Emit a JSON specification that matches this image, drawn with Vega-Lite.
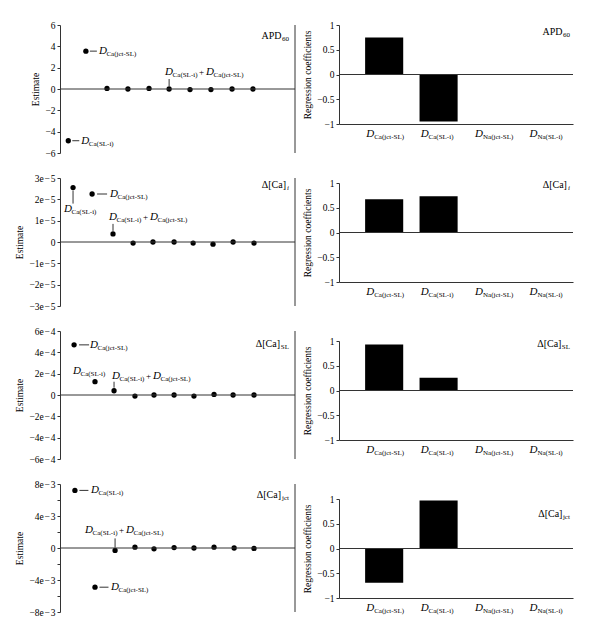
{
  "$schema": "https://vega.github.io/schema/vega-lite/v6.json",
  "padding": {"left": 14, "top": 20, "right": 5, "bottom": 5},
  "config": {
    "view": {"stroke": null},
    "font": "Liberation Serif",
    "axis": {"labelFont": "Liberation Serif", "titleFont": "Liberation Serif", "labelFontSize": 9.5, "titleFontSize": 9.5, "titleFontWeight": "normal", "labelColor": "black", "titleColor": "black", "domainColor": "#333", "tickColor": "#333", "tickSize": 3, "grid": false, "labelPadding": 2, "titlePadding": 4, "labelOverlap": false, "labelBound": false},
    "text": {"font": "Liberation Serif", "color": "black"},
    "rule": {"color": "#333"}
  },
  "datasets": {
    "pts": [
      {"panel":1,"x":0.4,"v":-4.85},{"panel":1,"x":1.25,"v":3.55},{"panel":1,"x":2.27,"v":0.05},{"panel":1,"x":3.28,"v":0},{"panel":1,"x":4.3,"v":0.05},{"panel":1,"x":5.27,"v":0},{"panel":1,"x":6.28,"v":-0.05},{"panel":1,"x":7.29,"v":-0.05},{"panel":1,"x":8.31,"v":0},{"panel":1,"x":9.32,"v":0},
      {"panel":2,"x":0.63,"v":2.55e-5},{"panel":2,"x":1.55,"v":2.25e-5},{"panel":2,"x":2.56,"v":0.38e-5},{"panel":2,"x":3.53,"v":-0.05e-5},{"panel":2,"x":4.49,"v":0},{"panel":2,"x":5.51,"v":0},{"panel":2,"x":6.43,"v":-0.05e-5},{"panel":2,"x":7.39,"v":-0.1e-5},{"panel":2,"x":8.36,"v":0},{"panel":2,"x":9.37,"v":-0.05e-5},
      {"panel":3,"x":0.68,"v":4.7e-4},{"panel":3,"x":1.69,"v":1.25e-4},{"panel":3,"x":2.61,"v":0.4e-4},{"panel":3,"x":3.62,"v":-0.1e-4},{"panel":3,"x":4.54,"v":0},{"panel":3,"x":5.51,"v":0},{"panel":3,"x":6.47,"v":-0.1e-4},{"panel":3,"x":7.44,"v":0.05e-4},{"panel":3,"x":8.36,"v":0},{"panel":3,"x":9.37,"v":0},
      {"panel":4,"x":0.72,"v":7.2e-3},{"panel":4,"x":1.69,"v":-4.9e-3},{"panel":4,"x":2.66,"v":-0.3e-3},{"panel":4,"x":3.62,"v":0.1e-3},{"panel":4,"x":4.54,"v":-0.1e-3},{"panel":4,"x":5.51,"v":0.05e-3},{"panel":4,"x":6.47,"v":0},{"panel":4,"x":7.44,"v":0.1e-3},{"panel":4,"x":8.41,"v":0},{"panel":4,"x":9.37,"v":-0.05e-3}
    ],
    "ann": [
      {"panel":1,"x":0.4,"v":-4.85,"kind":"right","sub":"Ca(SL-i)"},
      {"panel":1,"x":1.25,"v":3.55,"kind":"right","sub":"Ca(jct-SL)"},
      {"panel":1,"x":5.27,"v":0,"kind":"sum","sub":"Ca(SL-i)","sub2":"Ca(jct-SL)"},
      {"panel":2,"x":0.63,"v":2.55e-5,"kind":"down","sub":"Ca(SL-i)"},
      {"panel":2,"x":1.55,"v":2.25e-5,"kind":"right","sub":"Ca(jct-SL)"},
      {"panel":2,"x":2.56,"v":0.38e-5,"kind":"sum","sub":"Ca(SL-i)","sub2":"Ca(jct-SL)"},
      {"panel":3,"x":0.68,"v":4.7e-4,"kind":"right","sub":"Ca(jct-SL)"},
      {"panel":3,"x":1.69,"v":1.25e-4,"kind":"above","sub":"Ca(SL-i)"},
      {"panel":3,"x":2.61,"v":0.4e-4,"kind":"sum","sub":"Ca(SL-i)","sub2":"Ca(jct-SL)"},
      {"panel":4,"x":0.72,"v":7.2e-3,"kind":"right","sub":"Ca(SL-i)"},
      {"panel":4,"x":1.69,"v":-4.9e-3,"kind":"right","sub":"Ca(jct-SL)"},
      {"panel":4,"x":2.66,"v":-0.3e-3,"kind":"sum","sub":"Ca(SL-i)","sub2":"Ca(jct-SL)"}
    ],
    "bars": [
      {"panel":1,"var":"Ca(jct-SL)","coef":0.75},{"panel":1,"var":"Ca(SL-i)","coef":-0.95},{"panel":1,"var":"Na(jct-SL)","coef":0},{"panel":1,"var":"Na(SL-i)","coef":0},
      {"panel":2,"var":"Ca(jct-SL)","coef":0.67},{"panel":2,"var":"Ca(SL-i)","coef":0.73},{"panel":2,"var":"Na(jct-SL)","coef":0},{"panel":2,"var":"Na(SL-i)","coef":0},
      {"panel":3,"var":"Ca(jct-SL)","coef":0.93},{"panel":3,"var":"Ca(SL-i)","coef":0.26},{"panel":3,"var":"Na(jct-SL)","coef":0},{"panel":3,"var":"Na(SL-i)","coef":0},
      {"panel":4,"var":"Ca(jct-SL)","coef":-0.69},{"panel":4,"var":"Ca(SL-i)","coef":0.97},{"panel":4,"var":"Na(jct-SL)","coef":0},{"panel":4,"var":"Na(SL-i)","coef":0}
    ]
  },
  "spacing": 6,
  "hconcat": [
    {
      "bounds": "flush",
      "spacing": 25,
      "vconcat": [
        {
          "width": 235, "height": 128,
          "layer": [
            {"data": {"name": "pts"}, "transform": [{"filter": "datum.panel == 1"}],
             "mark": {"type": "circle", "color": "black", "size": 28, "opacity": 1},
             "encoding": {
               "x": {"field": "x", "type": "quantitative", "scale": {"domain": [0, 11.35], "nice": false}, "axis": null},
               "y": {"field": "v", "type": "quantitative", "scale": {"domain": [-6, 6], "nice": false},
                     "axis": {"title": "Estimate", "tickCount": 20, "labelOverlap": false, "labelBound": false, "values": [-6,-4,-2,0,2,4,6], "labelExpr": "replace(format(datum.value, 'd'), '-', '−')"}}}},
            {"data": {"values": [{}]}, "mark": {"type": "rule", "strokeWidth": 1}, "encoding": {"y": {"datum": 0, "axis": {"title": "Estimate"}}}},
            {"data": {"values": [{}]}, "mark": {"type": "rule", "strokeWidth": 1}, "encoding": {"x": {"datum": 11.35, "axis": {"title": null}}}},
            {"data": {"name": "ann"}, "transform": [{"filter": "datum.panel == 1 && datum.kind == 'right'"}],
             "encoding": {"x": {"field": "x", "type": "quantitative", "axis": {"title": null}}, "y": {"field": "v", "type": "quantitative", "axis": {"title": "Estimate"}}},
             "layer": [
               {"mark": {"type": "rule", "xOffset": 4, "x2Offset": 11}, "encoding": {"x2": {"field": "x"}}},
               {"mark": {"type": "text", "text": "D", "fontStyle": "italic", "fontSize": 11, "align": "left", "baseline": "middle", "xOffset": 13}, "encoding": {}},
               {"mark": {"type": "text", "fontSize": 7, "align": "left", "baseline": "middle", "xOffset": 20.5, "yOffset": 3}, "encoding": {"text": {"field": "sub"}}}
             ]},
            {"data": {"name": "ann"}, "transform": [{"filter": "datum.panel == 1 && datum.kind == 'sum'"}],
             "encoding": {"x": {"field": "x", "type": "quantitative", "axis": {"title": null}}, "y": {"field": "v", "type": "quantitative", "axis": {"title": "Estimate"}}},
             "layer": [
               {"mark": {"type": "rule", "yOffset": -3, "y2Offset": -10}, "encoding": {"y2": {"field": "v"}}},
               {"mark": {"type": "text", "text": "D", "fontStyle": "italic", "fontSize": 11, "align": "left", "baseline": "middle", "xOffset": -4, "yOffset": -17}, "encoding": {}},
               {"mark": {"type": "text", "fontSize": 7, "align": "left", "baseline": "middle", "xOffset": 3.5, "yOffset": -14}, "encoding": {"text": {"field": "sub"}}},
               {"mark": {"type": "text", "text": "+", "fontSize": 9, "align": "left", "baseline": "middle", "xOffset": 30, "yOffset": -17}, "encoding": {}},
               {"mark": {"type": "text", "text": "D", "fontStyle": "italic", "fontSize": 11, "align": "left", "baseline": "middle", "xOffset": 37, "yOffset": -17}, "encoding": {}},
               {"mark": {"type": "text", "fontSize": 7, "align": "left", "baseline": "middle", "xOffset": 44.5, "yOffset": -14}, "encoding": {"text": {"field": "sub2"}}}
             ]},
            {"data": {"values": [{}]},
             "encoding": {"x": {"datum": 11.35, "axis": {"title": null}}, "y": {"datum": 6, "axis": {"title": "Estimate"}}},
             "layer": [
               {"mark": {"type": "text", "text": "APD", "fontSize": 10, "align": "right", "baseline": "middle", "xOffset": -13.5, "yOffset": 11}, "encoding": {}},
               {"mark": {"type": "text", "text": "60", "fontSize": 7, "align": "right", "baseline": "middle", "xOffset": -6, "yOffset": 14}, "encoding": {}}
             ]}
          ]
        },
        {
          "width": 235, "height": 128,
          "layer": [
            {"data": {"name": "pts"}, "transform": [{"filter": "datum.panel == 2"}],
             "mark": {"type": "circle", "color": "black", "size": 28, "opacity": 1},
             "encoding": {
               "x": {"field": "x", "type": "quantitative", "scale": {"domain": [0, 11.35], "nice": false}, "axis": null},
               "y": {"field": "v", "type": "quantitative", "scale": {"domain": [-3e-5, 3e-5], "nice": false},
                     "axis": {"title": "Estimate", "tickCount": 20, "labelOverlap": false, "labelBound": false, "values": [-3e-5,-2e-5,-1e-5,0,1e-5,2e-5,3e-5], "labelExpr": "datum.value == 0 ? '0' : replace(format(datum.value * 1e5, '.0f'), '-', '−') + 'e\u200a−\u200a5'"}}}},
            {"data": {"values": [{}]}, "mark": {"type": "rule", "strokeWidth": 1}, "encoding": {"y": {"datum": 0, "axis": {"title": "Estimate"}}}},
            {"data": {"values": [{}]}, "mark": {"type": "rule", "strokeWidth": 1}, "encoding": {"x": {"datum": 11.35, "axis": {"title": null}}}},
            {"data": {"name": "ann"}, "transform": [{"filter": "datum.panel == 2 && datum.kind == 'right'"}],
             "encoding": {"x": {"field": "x", "type": "quantitative", "axis": {"title": null}}, "y": {"field": "v", "type": "quantitative", "axis": {"title": "Estimate"}}},
             "layer": [
               {"mark": {"type": "rule", "xOffset": 5, "x2Offset": 15}, "encoding": {"x2": {"field": "x"}}},
               {"mark": {"type": "text", "text": "D", "fontStyle": "italic", "fontSize": 11, "align": "left", "baseline": "middle", "xOffset": 18}, "encoding": {}},
               {"mark": {"type": "text", "fontSize": 7, "align": "left", "baseline": "middle", "xOffset": 25.5, "yOffset": 3}, "encoding": {"text": {"field": "sub"}}}
             ]},
            {"data": {"name": "ann"}, "transform": [{"filter": "datum.panel == 2 && datum.kind == 'down'"}],
             "encoding": {"x": {"field": "x", "type": "quantitative", "axis": {"title": null}}, "y": {"field": "v", "type": "quantitative", "axis": {"title": "Estimate"}}},
             "layer": [
               {"mark": {"type": "rule", "yOffset": 3, "y2Offset": 16}, "encoding": {"y2": {"field": "v"}}},
               {"mark": {"type": "text", "text": "D", "fontStyle": "italic", "fontSize": 11, "align": "left", "baseline": "middle", "xOffset": -9, "yOffset": 21}, "encoding": {}},
               {"mark": {"type": "text", "fontSize": 7, "align": "left", "baseline": "middle", "xOffset": -1.5, "yOffset": 24}, "encoding": {"text": {"field": "sub"}}}
             ]},
            {"data": {"name": "ann"}, "transform": [{"filter": "datum.panel == 2 && datum.kind == 'sum'"}],
             "encoding": {"x": {"field": "x", "type": "quantitative", "axis": {"title": null}}, "y": {"field": "v", "type": "quantitative", "axis": {"title": "Estimate"}}},
             "layer": [
               {"mark": {"type": "rule", "yOffset": -3, "y2Offset": -10}, "encoding": {"y2": {"field": "v"}}},
               {"mark": {"type": "text", "text": "D", "fontStyle": "italic", "fontSize": 11, "align": "left", "baseline": "middle", "xOffset": -4, "yOffset": -17}, "encoding": {}},
               {"mark": {"type": "text", "fontSize": 7, "align": "left", "baseline": "middle", "xOffset": 3.5, "yOffset": -14}, "encoding": {"text": {"field": "sub"}}},
               {"mark": {"type": "text", "text": "+", "fontSize": 9, "align": "left", "baseline": "middle", "xOffset": 30, "yOffset": -17}, "encoding": {}},
               {"mark": {"type": "text", "text": "D", "fontStyle": "italic", "fontSize": 11, "align": "left", "baseline": "middle", "xOffset": 37, "yOffset": -17}, "encoding": {}},
               {"mark": {"type": "text", "fontSize": 7, "align": "left", "baseline": "middle", "xOffset": 44.5, "yOffset": -14}, "encoding": {"text": {"field": "sub2"}}}
             ]},
            {"data": {"values": [{}]},
             "encoding": {"x": {"datum": 11.35, "axis": {"title": null}}, "y": {"datum": 3e-5, "axis": {"title": "Estimate"}}},
             "layer": [
               {"mark": {"type": "text", "text": "Δ[Ca]", "fontSize": 10, "align": "right", "baseline": "middle", "xOffset": -9, "yOffset": 7}, "encoding": {}},
               {"mark": {"type": "text", "text": "i", "fontStyle": "italic", "fontSize": 7, "align": "right", "baseline": "middle", "xOffset": -6, "yOffset": 10}, "encoding": {}}
             ]}
          ]
        },
        {
          "width": 235, "height": 128,
          "layer": [
            {"data": {"name": "pts"}, "transform": [{"filter": "datum.panel == 3"}],
             "mark": {"type": "circle", "color": "black", "size": 28, "opacity": 1},
             "encoding": {
               "x": {"field": "x", "type": "quantitative", "scale": {"domain": [0, 11.35], "nice": false}, "axis": null},
               "y": {"field": "v", "type": "quantitative", "scale": {"domain": [-6e-4, 6e-4], "nice": false},
                     "axis": {"title": "Estimate", "tickCount": 20, "labelOverlap": false, "labelBound": false, "values": [-6e-4,-4e-4,-2e-4,0,2e-4,4e-4,6e-4], "labelExpr": "datum.value == 0 ? '0' : replace(format(datum.value * 1e4, '.0f'), '-', '−') + 'e\u200a−\u200a4'"}}}},
            {"data": {"values": [{}]}, "mark": {"type": "rule", "strokeWidth": 1}, "encoding": {"y": {"datum": 0, "axis": {"title": "Estimate"}}}},
            {"data": {"values": [{}]}, "mark": {"type": "rule", "strokeWidth": 1}, "encoding": {"x": {"datum": 11.35, "axis": {"title": null}}}},
            {"data": {"name": "ann"}, "transform": [{"filter": "datum.panel == 3 && datum.kind == 'right'"}],
             "encoding": {"x": {"field": "x", "type": "quantitative", "axis": {"title": null}}, "y": {"field": "v", "type": "quantitative", "axis": {"title": "Estimate"}}},
             "layer": [
               {"mark": {"type": "rule", "xOffset": 5, "x2Offset": 15}, "encoding": {"x2": {"field": "x"}}},
               {"mark": {"type": "text", "text": "D", "fontStyle": "italic", "fontSize": 11, "align": "left", "baseline": "middle", "xOffset": 16}, "encoding": {}},
               {"mark": {"type": "text", "fontSize": 7, "align": "left", "baseline": "middle", "xOffset": 23.5, "yOffset": 3}, "encoding": {"text": {"field": "sub"}}}
             ]},
            {"data": {"name": "ann"}, "transform": [{"filter": "datum.panel == 3 && datum.kind == 'above'"}],
             "encoding": {"x": {"field": "x", "type": "quantitative", "axis": {"title": null}}, "y": {"field": "v", "type": "quantitative", "axis": {"title": "Estimate"}}},
             "layer": [
               {"mark": {"type": "text", "text": "D", "fontStyle": "italic", "fontSize": 11, "align": "left", "baseline": "middle", "xOffset": -22, "yOffset": -11}, "encoding": {}},
               {"mark": {"type": "text", "fontSize": 7, "align": "left", "baseline": "middle", "xOffset": -14.5, "yOffset": -8}, "encoding": {"text": {"field": "sub"}}}
             ]},
            {"data": {"name": "ann"}, "transform": [{"filter": "datum.panel == 3 && datum.kind == 'sum'"}],
             "encoding": {"x": {"field": "x", "type": "quantitative", "axis": {"title": null}}, "y": {"field": "v", "type": "quantitative", "axis": {"title": "Estimate"}}},
             "layer": [
               {"mark": {"type": "rule", "yOffset": -3, "y2Offset": -9}, "encoding": {"y2": {"field": "v"}}},
               {"mark": {"type": "text", "text": "D", "fontStyle": "italic", "fontSize": 11, "align": "left", "baseline": "middle", "xOffset": -2, "yOffset": -15}, "encoding": {}},
               {"mark": {"type": "text", "fontSize": 7, "align": "left", "baseline": "middle", "xOffset": 5.5, "yOffset": -12}, "encoding": {"text": {"field": "sub"}}},
               {"mark": {"type": "text", "text": "+", "fontSize": 9, "align": "left", "baseline": "middle", "xOffset": 32, "yOffset": -15}, "encoding": {}},
               {"mark": {"type": "text", "text": "D", "fontStyle": "italic", "fontSize": 11, "align": "left", "baseline": "middle", "xOffset": 39, "yOffset": -15}, "encoding": {}},
               {"mark": {"type": "text", "fontSize": 7, "align": "left", "baseline": "middle", "xOffset": 46.5, "yOffset": -12}, "encoding": {"text": {"field": "sub2"}}}
             ]},
            {"data": {"values": [{}]},
             "encoding": {"x": {"datum": 11.35, "axis": {"title": null}}, "y": {"datum": 6e-4, "axis": {"title": "Estimate"}}},
             "layer": [
               {"mark": {"type": "text", "text": "Δ[Ca]", "fontSize": 10, "align": "right", "baseline": "middle", "xOffset": -15, "yOffset": 13}, "encoding": {}},
               {"mark": {"type": "text", "text": "SL", "fontSize": 7, "align": "right", "baseline": "middle", "xOffset": -6, "yOffset": 16}, "encoding": {}}
             ]}
          ]
        },
        {
          "width": 235, "height": 128,
          "layer": [
            {"data": {"name": "pts"}, "transform": [{"filter": "datum.panel == 4"}],
             "mark": {"type": "circle", "color": "black", "size": 28, "opacity": 1},
             "encoding": {
               "x": {"field": "x", "type": "quantitative", "scale": {"domain": [0, 11.35], "nice": false}, "axis": null},
               "y": {"field": "v", "type": "quantitative", "scale": {"domain": [-8e-3, 8e-3], "nice": false},
                     "axis": {"title": "Estimate", "tickCount": 20, "labelOverlap": false, "labelBound": false, "values": [-8e-3,-6e-3,-4e-3,-2e-3,0,2e-3,4e-3,6e-3,8e-3], "labelExpr": "abs(round(datum.value * 1e3)) % 4 != 0 ? '' : datum.value == 0 ? '0' : replace(format(datum.value * 1e3, '.0f'), '-', '−') + 'e\u200a−\u200a3'"}}}},
            {"data": {"values": [{}]}, "mark": {"type": "rule", "strokeWidth": 1}, "encoding": {"y": {"datum": 0, "axis": {"title": "Estimate"}}}},
            {"data": {"values": [{}]}, "mark": {"type": "rule", "strokeWidth": 1}, "encoding": {"x": {"datum": 11.35, "axis": {"title": null}}}},
            {"data": {"name": "ann"}, "transform": [{"filter": "datum.panel == 4 && datum.kind == 'right'"}],
             "encoding": {"x": {"field": "x", "type": "quantitative", "axis": {"title": null}}, "y": {"field": "v", "type": "quantitative", "axis": {"title": "Estimate"}}},
             "layer": [
               {"mark": {"type": "rule", "xOffset": 4.5, "x2Offset": 13.5}, "encoding": {"x2": {"field": "x"}}},
               {"mark": {"type": "text", "text": "D", "fontStyle": "italic", "fontSize": 11, "align": "left", "baseline": "middle", "xOffset": 16}, "encoding": {}},
               {"mark": {"type": "text", "fontSize": 7, "align": "left", "baseline": "middle", "xOffset": 23.5, "yOffset": 3}, "encoding": {"text": {"field": "sub"}}}
             ]},
            {"data": {"name": "ann"}, "transform": [{"filter": "datum.panel == 4 && datum.kind == 'sum'"}],
             "encoding": {"x": {"field": "x", "type": "quantitative", "axis": {"title": null}}, "y": {"field": "v", "type": "quantitative", "axis": {"title": "Estimate"}}},
             "layer": [
               {"mark": {"type": "rule", "yOffset": -3, "y2Offset": -12}, "encoding": {"y2": {"field": "v"}}},
               {"mark": {"type": "text", "text": "D", "fontStyle": "italic", "fontSize": 11, "align": "left", "baseline": "middle", "xOffset": -30, "yOffset": -20}, "encoding": {}},
               {"mark": {"type": "text", "fontSize": 7, "align": "left", "baseline": "middle", "xOffset": -22.5, "yOffset": -17}, "encoding": {"text": {"field": "sub"}}},
               {"mark": {"type": "text", "text": "+", "fontSize": 9, "align": "left", "baseline": "middle", "xOffset": 4, "yOffset": -20}, "encoding": {}},
               {"mark": {"type": "text", "text": "D", "fontStyle": "italic", "fontSize": 11, "align": "left", "baseline": "middle", "xOffset": 11, "yOffset": -20}, "encoding": {}},
               {"mark": {"type": "text", "fontSize": 7, "align": "left", "baseline": "middle", "xOffset": 18.5, "yOffset": -17}, "encoding": {"text": {"field": "sub2"}}}
             ]},
            {"data": {"values": [{}]},
             "encoding": {"x": {"datum": 11.35, "axis": {"title": null}}, "y": {"datum": 8e-3, "axis": {"title": "Estimate"}}},
             "layer": [
               {"mark": {"type": "text", "text": "Δ[Ca]", "fontSize": 10, "align": "right", "baseline": "middle", "xOffset": -14, "yOffset": 11}, "encoding": {}},
               {"mark": {"type": "text", "text": "jct", "fontSize": 7, "align": "right", "baseline": "middle", "xOffset": -6, "yOffset": 14}, "encoding": {}}
             ]}
          ]
        }
      ]
    },
    {
      "bounds": "flush",
      "spacing": 59,
      "vconcat": [
        {
          "width": 234, "height": 99,
          "layer": [
            {"data": {"name": "bars"}, "transform": [{"filter": "datum.panel == 1"}],
             "mark": {"type": "bar", "color": "black"},
             "encoding": {
               "x": {"field": "var", "type": "nominal", "scale": {"type": "band", "domain": ["Ca(jct-SL)", "Ca(SL-i)", "Na(jct-SL)", "Na(SL-i)"], "paddingInner": 0.3, "paddingOuter": 0.3, "align": 0.8}, "axis": {"labels": false, "ticks": false, "title": null, "domain": true}},
               "y": {"field": "coef", "type": "quantitative", "scale": {"domain": [-1, 1], "nice": false}, "axis": {"title": "Regression coefficients", "tickCount": 20, "labelOverlap": false, "labelBound": false, "values": [-1, -0.5, 0, 0.5, 1], "labelExpr": "replace(toString(datum.value), '-', '−')"}}}},
            {"data": {"values": [{}]}, "mark": {"type": "rule", "strokeWidth": 1}, "encoding": {"y": {"datum": 0, "axis": {"title": "Regression coefficients"}}}},
            {"data": {"name": "bars"}, "transform": [{"filter": "datum.panel == 1"}],
             "encoding": {"x": {"field": "var", "type": "nominal", "axis": {"title": null}}, "y": {"datum": -1, "axis": {"title": "Regression coefficients"}}},
             "layer": [
               {"mark": {"type": "text", "text": "D", "fontStyle": "italic", "fontSize": 11, "align": "right", "baseline": "middle", "xOffset": -10, "yOffset": 10}, "encoding": {}},
               {"mark": {"type": "text", "fontSize": 7, "align": "left", "baseline": "middle", "xOffset": -10, "yOffset": 13}, "encoding": {"text": {"field": "var"}}}
             ]},
            {"data": {"values": [{}]},
             "encoding": {"x": {"datum": "Na(SL-i)", "axis": {"title": null}}, "y": {"datum": 1, "axis": {"title": "Regression coefficients"}}},
             "layer": [
               {"mark": {"type": "text", "text": "APD", "fontSize": 10, "align": "right", "baseline": "middle", "xOffset": 15, "yOffset": 7}, "encoding": {}},
               {"mark": {"type": "text", "text": "60", "fontSize": 7, "align": "right", "baseline": "middle", "xOffset": 22.5, "yOffset": 10}, "encoding": {}}
             ]}
          ]
        },
        {
          "width": 234, "height": 99,
          "layer": [
            {"data": {"name": "bars"}, "transform": [{"filter": "datum.panel == 2"}],
             "mark": {"type": "bar", "color": "black"},
             "encoding": {
               "x": {"field": "var", "type": "nominal", "scale": {"type": "band", "domain": ["Ca(jct-SL)", "Ca(SL-i)", "Na(jct-SL)", "Na(SL-i)"], "paddingInner": 0.3, "paddingOuter": 0.3, "align": 0.8}, "axis": {"labels": false, "ticks": false, "title": null, "domain": true}},
               "y": {"field": "coef", "type": "quantitative", "scale": {"domain": [-1, 1], "nice": false}, "axis": {"title": "Regression coefficients", "tickCount": 20, "labelOverlap": false, "labelBound": false, "values": [-1, -0.5, 0, 0.5, 1], "labelExpr": "replace(toString(datum.value), '-', '−')"}}}},
            {"data": {"values": [{}]}, "mark": {"type": "rule", "strokeWidth": 1}, "encoding": {"y": {"datum": 0, "axis": {"title": "Regression coefficients"}}}},
            {"data": {"name": "bars"}, "transform": [{"filter": "datum.panel == 2"}],
             "encoding": {"x": {"field": "var", "type": "nominal", "axis": {"title": null}}, "y": {"datum": -1, "axis": {"title": "Regression coefficients"}}},
             "layer": [
               {"mark": {"type": "text", "text": "D", "fontStyle": "italic", "fontSize": 11, "align": "right", "baseline": "middle", "xOffset": -10, "yOffset": 10}, "encoding": {}},
               {"mark": {"type": "text", "fontSize": 7, "align": "left", "baseline": "middle", "xOffset": -10, "yOffset": 13}, "encoding": {"text": {"field": "var"}}}
             ]},
            {"data": {"values": [{}]},
             "encoding": {"x": {"datum": "Na(SL-i)", "axis": {"title": null}}, "y": {"datum": 1, "axis": {"title": "Regression coefficients"}}},
             "layer": [
               {"mark": {"type": "text", "text": "Δ[Ca]", "fontSize": 10, "align": "right", "baseline": "middle", "xOffset": 19.5, "yOffset": 2}, "encoding": {}},
               {"mark": {"type": "text", "text": "i", "fontStyle": "italic", "fontSize": 7, "align": "right", "baseline": "middle", "xOffset": 22.5, "yOffset": 5}, "encoding": {}}
             ]}
          ]
        },
        {
          "width": 234, "height": 99,
          "layer": [
            {"data": {"name": "bars"}, "transform": [{"filter": "datum.panel == 3"}],
             "mark": {"type": "bar", "color": "black"},
             "encoding": {
               "x": {"field": "var", "type": "nominal", "scale": {"type": "band", "domain": ["Ca(jct-SL)", "Ca(SL-i)", "Na(jct-SL)", "Na(SL-i)"], "paddingInner": 0.3, "paddingOuter": 0.3, "align": 0.8}, "axis": {"labels": false, "ticks": false, "title": null, "domain": true}},
               "y": {"field": "coef", "type": "quantitative", "scale": {"domain": [-1, 1], "nice": false}, "axis": {"title": "Regression coefficients", "tickCount": 20, "labelOverlap": false, "labelBound": false, "values": [-1, -0.5, 0, 0.5, 1], "labelExpr": "replace(toString(datum.value), '-', '−')"}}}},
            {"data": {"values": [{}]}, "mark": {"type": "rule", "strokeWidth": 1}, "encoding": {"y": {"datum": 0, "axis": {"title": "Regression coefficients"}}}},
            {"data": {"name": "bars"}, "transform": [{"filter": "datum.panel == 3"}],
             "encoding": {"x": {"field": "var", "type": "nominal", "axis": {"title": null}}, "y": {"datum": -1, "axis": {"title": "Regression coefficients"}}},
             "layer": [
               {"mark": {"type": "text", "text": "D", "fontStyle": "italic", "fontSize": 11, "align": "right", "baseline": "middle", "xOffset": -10, "yOffset": 10}, "encoding": {}},
               {"mark": {"type": "text", "fontSize": 7, "align": "left", "baseline": "middle", "xOffset": -10, "yOffset": 13}, "encoding": {"text": {"field": "var"}}}
             ]},
            {"data": {"values": [{}]},
             "encoding": {"x": {"datum": "Na(SL-i)", "axis": {"title": null}}, "y": {"datum": 1, "axis": {"title": "Regression coefficients"}}},
             "layer": [
               {"mark": {"type": "text", "text": "Δ[Ca]", "fontSize": 10, "align": "right", "baseline": "middle", "xOffset": 14, "yOffset": 3}, "encoding": {}},
               {"mark": {"type": "text", "text": "SL", "fontSize": 7, "align": "right", "baseline": "middle", "xOffset": 22.5, "yOffset": 6}, "encoding": {}}
             ]}
          ]
        },
        {
          "width": 234, "height": 99,
          "layer": [
            {"data": {"name": "bars"}, "transform": [{"filter": "datum.panel == 4"}],
             "mark": {"type": "bar", "color": "black"},
             "encoding": {
               "x": {"field": "var", "type": "nominal", "scale": {"type": "band", "domain": ["Ca(jct-SL)", "Ca(SL-i)", "Na(jct-SL)", "Na(SL-i)"], "paddingInner": 0.3, "paddingOuter": 0.3, "align": 0.8}, "axis": {"labels": false, "ticks": false, "title": null, "domain": true}},
               "y": {"field": "coef", "type": "quantitative", "scale": {"domain": [-1, 1], "nice": false}, "axis": {"title": "Regression coefficients", "tickCount": 20, "labelOverlap": false, "labelBound": false, "values": [-1, -0.5, 0, 0.5, 1], "labelExpr": "replace(toString(datum.value), '-', '−')"}}}},
            {"data": {"values": [{}]}, "mark": {"type": "rule", "strokeWidth": 1}, "encoding": {"y": {"datum": 0, "axis": {"title": "Regression coefficients"}}}},
            {"data": {"name": "bars"}, "transform": [{"filter": "datum.panel == 4"}],
             "encoding": {"x": {"field": "var", "type": "nominal", "axis": {"title": null}}, "y": {"datum": -1, "axis": {"title": "Regression coefficients"}}},
             "layer": [
               {"mark": {"type": "text", "text": "D", "fontStyle": "italic", "fontSize": 11, "align": "right", "baseline": "middle", "xOffset": -10, "yOffset": 10}, "encoding": {}},
               {"mark": {"type": "text", "fontSize": 7, "align": "left", "baseline": "middle", "xOffset": -10, "yOffset": 13}, "encoding": {"text": {"field": "var"}}}
             ]},
            {"data": {"values": [{}]},
             "encoding": {"x": {"datum": "Na(SL-i)", "axis": {"title": null}}, "y": {"datum": 1, "axis": {"title": "Regression coefficients"}}},
             "layer": [
               {"mark": {"type": "text", "text": "Δ[Ca]", "fontSize": 10, "align": "right", "baseline": "middle", "xOffset": 15, "yOffset": 15}, "encoding": {}},
               {"mark": {"type": "text", "text": "jct", "fontSize": 7, "align": "right", "baseline": "middle", "xOffset": 22.5, "yOffset": 18}, "encoding": {}}
             ]}
          ]
        }
      ]
    }
  ]
}
